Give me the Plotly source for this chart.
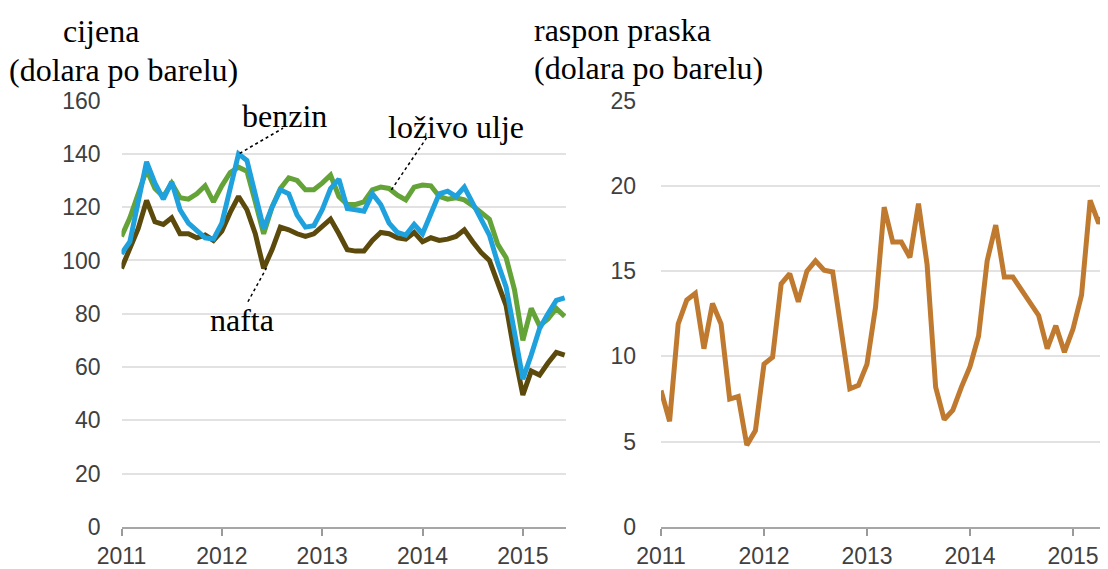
import plotly.graph_objects as go

# ---------------- data ----------------
years = [2011, 2012, 2013, 2014, 2015]
year_labels = ["2011", "2012", "2013", "2014", "2015"]

# monthly values, Jan 2011 .. Jun 2015 (dollars per barrel)
nafta = [97, 104, 112, 122.5, 114.5, 113.5, 116, 110, 110, 108.5, 109.5, 107.5,
         111, 118, 124, 119, 110, 97, 104, 112.5, 111.5, 110, 109, 110,
         112.5, 115.5, 110, 104, 103.5, 103.5, 107.5, 110.5, 110, 108.5, 108, 110.5,
         107, 108.5, 107.5, 108, 109, 111.5, 107, 103, 100, 91, 83, 65,
         49.5, 58.5, 57, 61.5, 65.5, 64.5]
benzin = [102.5, 107, 122, 137, 129, 123, 129.5, 119, 114, 111, 108.5, 108,
          114, 127, 140, 137.5, 124, 112, 120, 126.5, 125, 117, 112.5, 113,
          119, 127, 130.5, 119.5, 119, 118.5, 125, 121, 114, 110.5, 109.5, 113.5,
          110, 117, 125, 126, 124, 127.5, 121.5, 116, 109.5, 99, 90, 73,
          55.5, 64.5, 74.5, 80, 85, 86]
lozivo_ulje = [109, 116, 125, 134, 127, 124, 129, 123.5, 123, 125, 128, 122,
               128, 133, 135, 133.5, 122, 110, 120, 127, 131, 130, 126.5, 126.5,
               129, 132, 124, 121, 121, 122, 126.5, 127.5, 127, 124.5, 122.7, 127.5,
               128.3, 128, 124, 123, 123.5, 122.7, 120.5, 118, 115.5, 106, 101, 89,
               70, 82, 75.5, 78, 82, 79]
# crack spread, Jan 2011 .. May 2015
raspon = [8.0, 6.2, 11.9, 13.3, 13.7, 10.45, 13.1, 11.9, 7.5, 7.65, 4.8, 5.65,
          9.55, 9.95, 14.25, 14.85, 13.2, 15.0, 15.6, 15.05, 14.95, 11.4, 8.1, 8.3,
          9.55, 12.9, 18.75, 16.7, 16.7, 15.8, 18.95, 15.4, 8.2, 6.3, 6.85, 8.2,
          9.4, 11.2, 15.6, 17.7, 14.65, 14.65, 13.9, 13.2, 12.4, 10.45, 11.8, 10.25,
          11.6, 13.6, 19.15, 17.8, 18.65]

t_left = [2011 + i / 12 for i in range(len(nafta))]
t_right = [2011 + i / 12 for i in range(len(raspon))]

# the page body has an 8px margin; the figure fills the rest of the window
OFF = 8
W, H = 1108 - OFF, 569 - OFF


def px(xp, yp):
    """screen pixel -> paper fraction"""
    return (xp - OFF) / W, 1 - (yp - OFF) / H


C_NAFTA = "#5b4a0c"
C_BENZIN = "#1ea1dc"
C_ULJE = "#64a338"
C_RASPON = "#c07a30"
LW = 5

fig = go.Figure()
fig.add_trace(go.Scatter(x=t_left, y=nafta, mode="lines", name="nafta",
                         line=dict(color=C_NAFTA, width=LW), xaxis="x", yaxis="y"))
fig.add_trace(go.Scatter(x=t_left, y=lozivo_ulje, mode="lines", name="loživo ulje",
                         line=dict(color=C_ULJE, width=LW), xaxis="x", yaxis="y"))
fig.add_trace(go.Scatter(x=t_left, y=benzin, mode="lines", name="benzin",
                         line=dict(color=C_BENZIN, width=LW), xaxis="x", yaxis="y"))
fig.add_trace(go.Scatter(x=t_right, y=raspon, mode="lines", name="raspon praska",
                         line=dict(color=C_RASPON, width=LW), xaxis="x2", yaxis="y2"))

tickfont = dict(family="Liberation Sans, Arial, sans-serif", size=23, color="#404040")
ydom = [px(0, 527)[1], px(0, 100.5)[1]]

xcommon = dict(tickvals=years, ticktext=year_labels, ticks="outside", ticklen=7,
               tickwidth=1.5, tickcolor="#9a9a9a", showline=True, linecolor="#a6a6a6",
               linewidth=2, showgrid=False, zeroline=False, tickfont=tickfont,
               fixedrange=True, automargin=False)
ycommon = dict(showgrid=True, gridcolor="#e2e2e2", gridwidth=2, zeroline=False,
               showline=False, ticks="", tickfont=tickfont, automargin=False)

fig.update_layout(
    template="none",
    width=W, height=H,
    margin=dict(l=0, r=0, t=0, b=0, autoexpand=False),
    paper_bgcolor="white", plot_bgcolor="white",
    showlegend=False,
    xaxis=dict(domain=[px(121.5, 0)[0], px(566, 0)[0]], range=[2011, 2015.43], anchor="y", **xcommon),
    yaxis=dict(domain=ydom, range=[0, 160], dtick=20, anchor="x", ticklabelstandoff=20, **ycommon),
    xaxis2=dict(domain=[px(661, 0)[0], 1.0], range=[2011, 2015.34], anchor="y2", **xcommon),
    yaxis2=dict(domain=ydom, range=[0, 25], dtick=5, anchor="x2", ticklabelstandoff=24, **ycommon),
)

serif = dict(family="Liberation Serif, Times New Roman, serif", size=32, color="black")

titles = [("cijena", 61, 31), ("(dolara po barelu)", 7, 70),
          ("raspon praska", 532, 30), ("(dolara po barelu)", 532, 68)]
for txt, xp, yp in titles:
    xx, yy = px(xp, yp)
    fig.add_annotation(text=txt, x=xx, y=yy, xref="paper", yref="paper",
                       xanchor="left", yanchor="middle", showarrow=False, font=serif)

# series labels in data coordinates
labels = [("benzin", 2012.626, 154.2), ("loživo ulje", 2014.33, 150.1), ("nafta", 2012.198, 77.7)]
for txt, xv, yv in labels:
    fig.add_annotation(text=txt, x=xv, y=yv, xref="x", yref="y", xanchor="center",
                       yanchor="middle", showarrow=False, font=serif)

leaders = [((2012.178, 140.2), (2012.61, 149.6)),
           ((2013.69, 126.5), (2014.05, 146.5)),
           ((2012.26, 84.5), (2012.444, 97.1))]
for (x0, y0), (x1, y1) in leaders:
    fig.add_shape(type="line", x0=x0, y0=y0, x1=x1, y1=y1, xref="x", yref="y",
                  line=dict(color="black", width=1.5, dash="dot"))

fig.write_html("out.html")
